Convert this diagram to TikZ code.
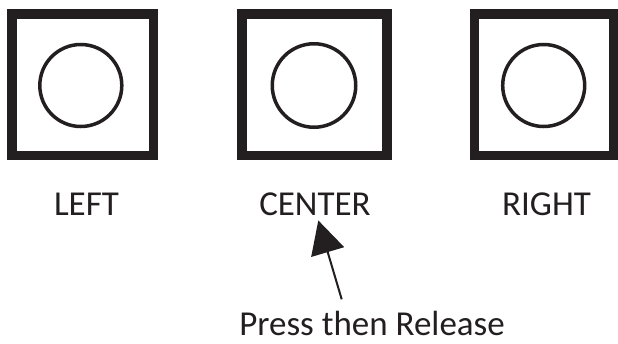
\documentclass[tikz,border=0pt]{standalone}
\usepackage{fontspec}
\setmainfont{Carlito}
\usetikzlibrary{arrows.meta}
\definecolor{ink}{RGB}{35,31,32}
\tikzset{
  framebox/.style={draw=ink, line width=9.5pt, rectangle, minimum height=141.5pt, inner sep=0pt},
  knob/.style={draw=ink, line width=3.5pt, circle, inner sep=0pt, minimum size=82pt},
  lbl/.style={text=ink, font=\fontsize{35}{40}\selectfont, inner sep=0pt, anchor=base},
  pointer/.style={draw=ink, line width=2pt, -{Triangle[length=33pt,width=34pt]}}
}
\begin{document}
\begin{tikzpicture}[x=1pt, y=-1pt]
\useasboundingbox (0,0) rectangle (618,343);
% frames
\node[framebox, minimum width=141.3pt] (bl) at (82.7,84.5) {};
\node[framebox, minimum width=145pt] (bc) at (314.5,84.5) {};
\node[framebox, minimum width=139pt] (br) at (543.9,84.5) {};
% knobs
\node[knob] (kl) at (80.8,85.5) {};
\node[knob, minimum size=83.5pt] (kc) at (314,85.5) {};
\node[knob] (kr) at (543.7,85.5) {};
% labels
\node[lbl] (left) at (86.5,215) {LEFT};
\node[lbl] (ctr) at (315,215) {CENTER};
\node[lbl] (right) at (546.5,215) {RIGHT};
\node[lbl] (press) at (372,335) {Press then Release};
% pointer
\coordinate (pstart) at (341.7,299.3);
\draw[pointer] (pstart) -- ([shift={(3.3,5)}]ctr.south);
\end{tikzpicture}
\end{document}
